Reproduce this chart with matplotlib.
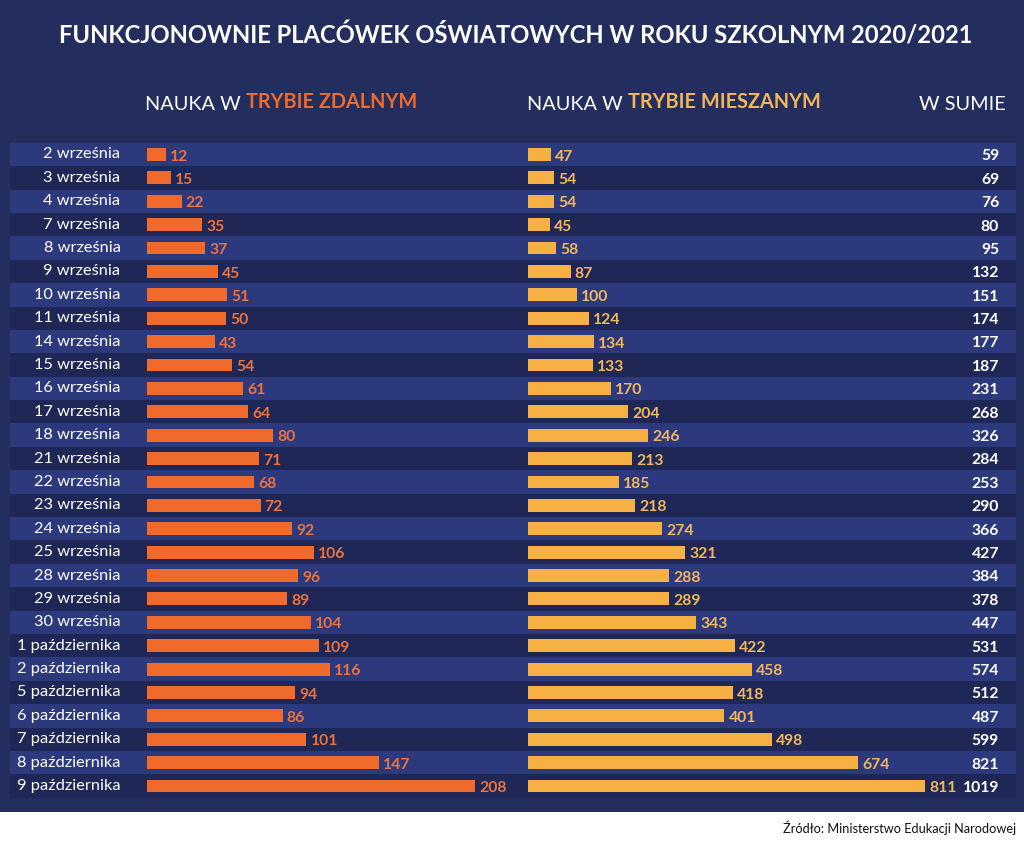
import matplotlib
matplotlib.use("Agg")
import matplotlib.pyplot as plt
from matplotlib.patches import Rectangle

plt.rcParams['font.family'] = ['Lato', 'DejaVu Sans']

dates = ["2 września", "3 września", "4 września", "7 września", "8 września",
         "9 września", "10 września", "11 września", "14 września", "15 września",
         "16 września", "17 września", "18 września", "21 września", "22 września",
         "23 września", "24 września", "25 września", "28 września", "29 września",
         "30 września", "1 października", "2 października", "5 października",
         "6 października", "7 października", "8 października", "9 października"]
remote = [12, 15, 22, 35, 37, 45, 51, 50, 43, 54, 61, 64, 80, 71, 68, 72, 92,
          106, 96, 89, 104, 109, 116, 94, 86, 101, 147, 208]
mixed = [47, 54, 54, 45, 58, 87, 100, 124, 134, 133, 170, 204, 246, 213, 185,
         218, 274, 321, 288, 289, 343, 422, 458, 418, 401, 498, 674, 811]
totals = [59, 69, 76, 80, 95, 132, 151, 174, 177, 187, 231, 268, 326, 284, 253,
          290, 366, 427, 384, 378, 447, 531, 574, 512, 487, 599, 821, 1019]

title = "FUNKCJONOWNIE PLACÓWEK OŚWIATOWYCH W ROKU SZKOLNYM 2020/2021"
source = "Źródło: Ministerstwo Edukacji Narodowej"

NAVY = "#232d5e"
STRIPE_LIGHT = "#2c3a7d"
STRIPE_DARK = "#1f2756"
ORANGE = "#ef6a2b"
ORANGE_TXT = "#ea723d"
YELLOW = "#f6b043"
YELLOW_TXT = "#f1b65c"
WHITE = "#ffffff"

W, H = 1024, 842
fig = plt.figure(figsize=(W / 100, H / 100), dpi=100)
fig.patch.set_facecolor("white")
fig.patches.append(Rectangle((0, 1 - 812 / H), 1, 812 / H, transform=fig.transFigure,
                             facecolor=NAVY, edgecolor="none", zorder=-10))


def fx(px):
    return px / W


def fy(py):
    return 1 - py / H


n = len(dates)
row_h = 23.39
top = 154.5 - row_h / 2
bottom = 154.5 + (n - 1) * row_h + row_h / 2
ax_b = fy(bottom)
ax_h = (bottom - top) / H

# background stripes axis
ax_bg = fig.add_axes([0, ax_b, 1, ax_h])
ax_bg.set_xlim(0, W)
ax_bg.set_ylim(n - 0.5, -0.5)
ax_bg.axis("off")
stripe_cols = [STRIPE_LIGHT if i % 2 == 0 else STRIPE_DARK for i in range(n)]
ax_bg.barh(range(n), 1006, left=10, height=1.0, color=stripe_cols, zorder=0)

# left panel
lw = 370
ax_l = fig.add_axes([fx(147), ax_b, fx(lw), ax_h])
ax_l.set_xlim(0, lw / 1.577)
ax_l.set_ylim(n - 0.5, -0.5)
ax_l.axis("off")
ax_l.barh(range(n), remote, height=0.55, color=ORANGE, zorder=2)

# right panel
rw = 480
ax_r = fig.add_axes([fx(528), ax_b, fx(rw), ax_h])
ax_r.set_xlim(0, rw / 0.4895)
ax_r.set_ylim(n - 0.5, -0.5)
ax_r.axis("off")
ax_r.barh(range(n), mixed, height=0.55, color=YELLOW, zorder=2)

FS = 11.3
DFS = 11.8
for i in range(n):
    ax_l.annotate(str(remote[i]), xy=(remote[i], i), xytext=(3, -1.5),
                  textcoords="offset points", ha="left", va="center",
                  color=ORANGE_TXT, fontsize=FS, fontweight="bold")
    ax_r.annotate(str(mixed[i]), xy=(mixed[i], i), xytext=(3, -1.5),
                  textcoords="offset points", ha="left", va="center",
                  color=YELLOW_TXT, fontsize=FS, fontweight="bold")
    ax_l.annotate(dates[i], xy=(0, i), xytext=(-19, 0),
                  textcoords="offset points", ha="right", va="center",
                  color=WHITE, fontsize=DFS)
    ax_bg.text(999, i + 0.08, str(totals[i]), ha="right", va="center",
               color=WHITE, fontsize=FS, fontweight="bold")

# title
fig.text(fx(516), fy(36), title, ha="center", va="center", color=WHITE,
         fontsize=17.1, fontweight="bold")

# column headers
HFS = 14.3
t1 = fig.text(fx(145), fy(104), "NAUKA W ", ha="left", va="center", color=WHITE,
              fontsize=HFS)
ax_bg.annotate("TRYBIE ZDALNYM", xy=(1, 0), xycoords=t1, ha="left", va="bottom",
               color=ORANGE, fontsize=HFS, fontweight="bold", annotation_clip=False)
t2 = fig.text(fx(527), fy(104), "NAUKA W ", ha="left", va="center", color=WHITE,
              fontsize=HFS)
ax_bg.annotate("TRYBIE MIESZANYM", xy=(1, 0), xycoords=t2, ha="left", va="bottom",
               color=YELLOW_TXT, fontsize=HFS, fontweight="bold", annotation_clip=False)
fig.text(fx(1006), fy(104), "W SUMIE", ha="right", va="center", color=WHITE,
         fontsize=HFS)

# source
fig.text(fx(1016), fy(828), source, ha="right", va="center", color="#111111",
         fontsize=9.2)

fig.savefig("out.png", dpi=100, facecolor=fig.get_facecolor())
